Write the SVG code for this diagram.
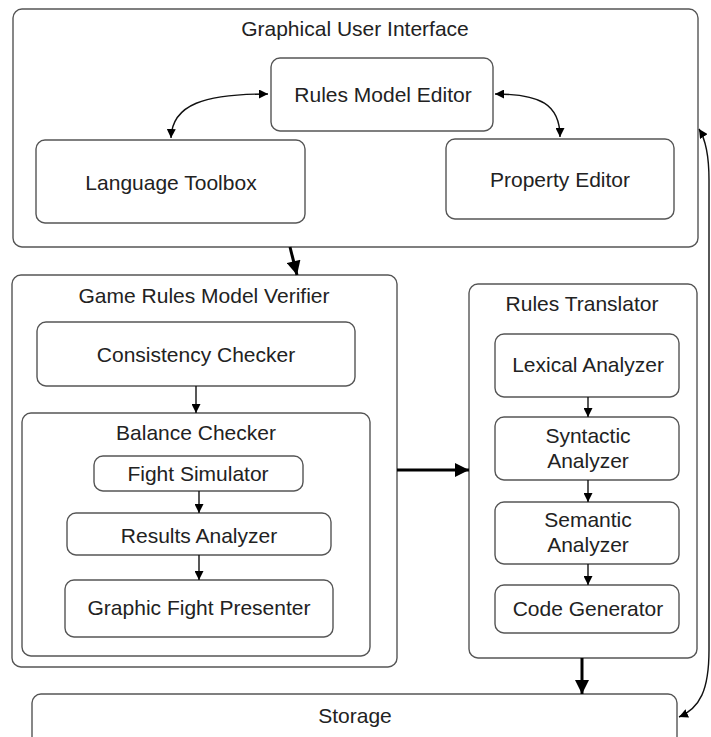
<svg xmlns="http://www.w3.org/2000/svg" width="711" height="737" viewBox="0 0 711 737">
<style>
.box{fill:#fff;stroke:#555;stroke-width:1.4}
.t{font-family:"Liberation Sans",Arial,sans-serif;font-size:21px;fill:#222;text-anchor:middle}
.c{fill:none;stroke:#111;stroke-width:1.4}
.ct{fill:none;stroke:#000;stroke-width:3}
</style>
<defs>
<marker id="a" viewBox="0 0 10 10" refX="10" refY="5" markerUnits="userSpaceOnUse" markerWidth="9" markerHeight="9" orient="auto-start-reverse"><path d="M0,0 L10,5 L0,10 z" fill="#000"/></marker>
<marker id="b" viewBox="0 0 10 10" refX="10" refY="5" markerUnits="userSpaceOnUse" markerWidth="15" markerHeight="14" orient="auto"><path d="M0,0 L10,5 L0,10 z" fill="#000"/></marker>
</defs>
<rect width="711" height="737" fill="#fff"/>
<g id="gui"><rect class="box" x="13" y="9" width="685" height="238" rx="9"/><text class="t" x="355" y="36">Graphical User Interface</text></g>
<g id="rules-model-editor"><rect class="box" x="271" y="58" width="222" height="73" rx="9"/><text class="t" x="383" y="102">Rules Model Editor</text></g>
<g id="language-toolbox"><rect class="box" x="36" y="140" width="269" height="83" rx="9"/><text class="t" x="171" y="190">Language Toolbox</text></g>
<g id="property-editor"><rect class="box" x="446" y="139" width="228" height="80" rx="9"/><text class="t" x="560" y="187">Property Editor</text></g>
<g id="verifier"><rect class="box" x="12" y="275" width="385" height="392" rx="9"/><text class="t" x="204" y="303">Game Rules Model Verifier</text></g>
<g id="consistency-checker"><rect class="box" x="37" y="322" width="318" height="64" rx="9"/><text class="t" x="196" y="362">Consistency Checker</text></g>
<g id="balance-checker"><rect class="box" x="22" y="413" width="348" height="243" rx="9"/><text class="t" x="196" y="440">Balance Checker</text></g>
<g id="fight-simulator"><rect class="box" x="94" y="456" width="209" height="35" rx="9"/><text class="t" x="198" y="481">Fight Simulator</text></g>
<g id="results-analyzer"><rect class="box" x="67" y="513" width="264" height="42" rx="9"/><text class="t" x="199" y="543">Results Analyzer</text></g>
<g id="graphic-fight-presenter"><rect class="box" x="65" y="580" width="268" height="57" rx="9"/><text class="t" x="199" y="615">Graphic Fight Presenter</text></g>
<g id="rules-translator"><rect class="box" x="469" y="284" width="228" height="374" rx="9"/><text class="t" x="582" y="311">Rules Translator</text></g>
<g id="lexical-analyzer"><rect class="box" x="495" y="334" width="184" height="63" rx="9"/><text class="t" x="588" y="372">Lexical Analyzer</text></g>
<g id="syntactic-analyzer"><rect class="box" x="495" y="417" width="184" height="63" rx="9"/><text class="t" x="588" y="443">Syntactic</text><text class="t" x="588" y="468">Analyzer</text></g>
<g id="semantic-analyzer"><rect class="box" x="495" y="502" width="184" height="62" rx="9"/><text class="t" x="588" y="527">Semantic</text><text class="t" x="588" y="552">Analyzer</text></g>
<g id="code-generator"><rect class="box" x="495" y="585" width="184" height="48" rx="9"/><text class="t" x="588" y="616">Code Generator</text></g>
<g id="storage"><rect class="box" x="32" y="694" width="645" height="70" rx="9"/><text class="t" x="355" y="723">Storage</text></g>
<g id="connectors">
<path class="c" d="M268 94 C205 94 172 104 171 138" marker-start="url(#a)" marker-end="url(#a)"/>
<path class="c" d="M495 94 C540 94 560 104 560 137" marker-start="url(#a)" marker-end="url(#a)"/>
<path class="ct" d="M290 247 L297 275" marker-end="url(#b)"/>
<path class="c" d="M196 386 L196 413" marker-end="url(#a)"/>
<path class="c" d="M199 491 L199 513" marker-end="url(#a)"/>
<path class="c" d="M199 555 L199 580" marker-end="url(#a)"/>
<path class="ct" d="M397 470 L469 470" marker-end="url(#b)"/>
<path class="c" d="M588 397 L588 417" marker-end="url(#a)"/>
<path class="c" d="M588 480 L588 502" marker-end="url(#a)"/>
<path class="c" d="M588 564 L588 585" marker-end="url(#a)"/>
<path class="ct" d="M582 658 L582 694" marker-end="url(#b)"/>
<path class="c" stroke-width="1.2" d="M679 717 C700 708 709 690 709 650 L709 180 C709 155 706 140 699 129" marker-start="url(#a)" marker-end="url(#a)"/>
</g>
</svg>
